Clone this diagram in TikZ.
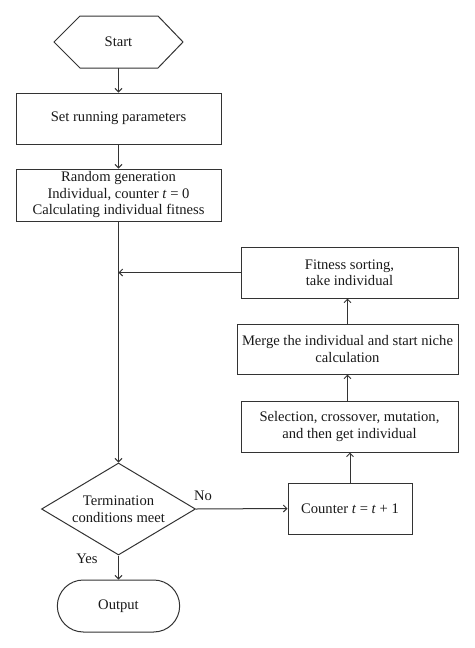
\documentclass[tikz,border=0pt]{standalone}
\usepackage{fontspec}
\setmainfont{Liberation Serif}
\usetikzlibrary{shapes.geometric,shapes.misc,arrows.meta,calc}
\begin{document}
\begin{tikzpicture}[x=1pt,y=-1pt,
  line width=1pt,
  every node/.style={font=\fontsize{14.6}{16.5}\selectfont, text=black!90},
  box/.style={draw=black!80, rectangle, align=center, inner sep=0pt},
  conn/.style={draw=black!80, -{Straight Barb[length=3.5pt,width=7pt]}},
  plain/.style={draw=black!80}]
\useasboundingbox (0,0) rectangle (474,648);
% start
\node (start) at (118.5,42) {Start};
\draw[plain] ($(start.center)+(-64.5,0)$) -- ++(26,-26) -- ++(78,0) -- ++(25,26) -- ++(-25,26) -- ++(-78,0) -- cycle;
\coordinate (startb) at (118.5,68);
\node[box, minimum width=205pt, minimum height=51pt] (set) at (118.5,118.5) {Set running parameters};
\node[box, minimum width=205pt, minimum height=52pt] (rand) at (118.5,195) {Random generation\\Individual, counter \textit{t} = 0\\Calculating individual fitness};
\node[box, minimum width=217pt, minimum height=51pt] (fit) at (349.5,272.5) {Fitness sorting,\\take individual};
\node[box, minimum width=221pt, minimum height=50pt] (merge) at (347.5,349) {Merge the individual and start niche\\calculation};
\node[box, minimum width=217pt, minimum height=51pt] (sel) at (349.5,426.5) {Selection, crossover, mutation,\\and then get individual};
\node[box, minimum width=124pt, minimum height=51pt] (cnt) at (350,508.5) {Counter \textit{t} = \textit{t} + 1};
\node[diamond, draw=black!80, minimum width=154pt, minimum height=92pt, inner sep=0pt] (term) at (118.5,509) {};
\node[align=center] (termtxt) at (term.center) {Termination\\conditions meet};
\node[rounded rectangle, draw=black!80, minimum width=129pt, minimum height=52pt] (out) at (118.5,606) {Output};
\node (no) at (203,496) {No};
\node (yes) at (87,559) {Yes};
\coordinate (fb) at (rand.south |- fit.west);
\draw[conn] (startb) -- (set.north);
\draw[conn] (set.south) -- (rand.north);
\draw[conn] (rand.south) -- (term.north);
\draw[conn] (fit.west) -- (fb);
\draw[conn] (term.east) -- (cnt.west);
\draw[conn] (term.south) -- (out.north);
\draw[conn] (cnt.north) -- (cnt.north |- sel.south);
\draw[conn] (sel.north -| merge.center) -- (merge.south);
\draw[conn] (merge.north) -- (merge.north |- fit.south);
\end{tikzpicture}
\end{document}
